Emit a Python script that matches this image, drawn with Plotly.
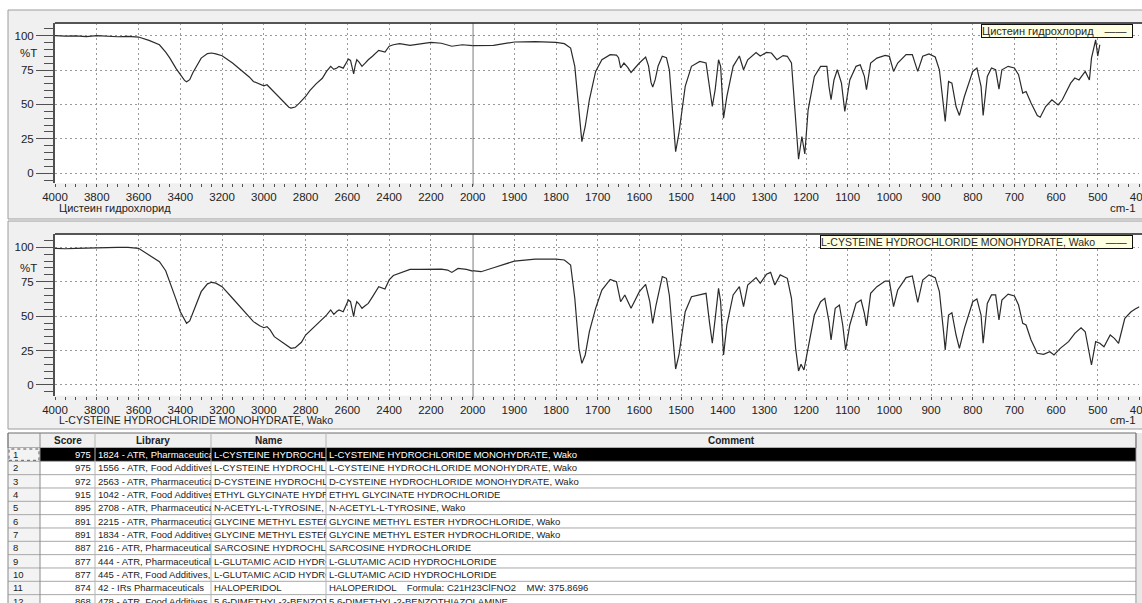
import plotly.graph_objects as go

W, H = 1142, 603
FONT = "Liberation Sans, Arial, sans-serif"

# ---------------- spectra: wavenumber (cm-1) and transmittance (%T) ----------------
sample_name = "Цистеин гидрохлорид"
sample_wn = [4000, 3950, 3900, 3850, 3800, 3750, 3700, 3650, 3600, 3550, 3500, 3470, 3450, 3420, 3400,
             3380, 3370, 3355, 3340, 3300, 3270, 3250, 3230, 3200, 3150, 3100, 3070, 3050, 3020, 3000,
             2985, 2970, 2950, 2925, 2900, 2880, 2870, 2850, 2830, 2800, 2780, 2750, 2720, 2700, 2680,
             2665, 2650, 2640, 2620, 2605, 2595, 2585, 2575, 2570, 2563, 2555, 2545, 2530, 2515, 2500,
             2480, 2450, 2420, 2400, 2380, 2350, 2300, 2250, 2200, 2150, 2100, 2050, 2000, 1950, 1900,
             1850, 1800, 1780, 1765, 1755, 1745, 1738, 1730, 1720, 1705, 1690, 1670, 1655, 1650, 1645,
             1637, 1628, 1620, 1610, 1600, 1585, 1578, 1572, 1568, 1562, 1555, 1545, 1535, 1528, 1520,
             1513, 1505, 1497, 1490, 1475, 1455, 1440, 1432, 1425, 1418, 1410, 1405, 1398, 1390, 1380,
             1375, 1360, 1350, 1340, 1320, 1310, 1295, 1283, 1270, 1255, 1245, 1235, 1225, 1218, 1210,
             1203, 1195, 1180, 1165, 1150, 1145, 1140, 1133, 1125, 1115, 1107, 1095, 1080, 1070, 1060,
             1055, 1045, 1030, 1010, 1000, 990, 980, 960, 945, 932, 920, 905, 890, 880, 870,
             866, 858, 850, 840, 832, 820, 800, 790, 780, 775, 765, 755, 745, 737, 730,
             715, 700, 690, 680, 672, 660, 645, 638, 625, 610, 595, 585, 565, 555, 545,
             530, 520, 515, 505, 500, 495]
sample_t = [100, 99.6, 99.8, 99.3, 100, 99.7, 99.2, 99.5, 99, 96.6, 93.4, 88, 83.7, 76, 71.6,
            67.5, 66.5, 68, 73, 83.7, 87, 87.4, 86.8, 85.4, 80.1, 74, 70, 66.7, 64.5, 63.6,
            64.3, 62, 59.4, 55, 51, 48, 47.3, 48.1, 51, 55.8, 60, 65, 69, 74, 77.7,
            75.5, 76.5, 77.7, 76.4, 80, 83, 82, 76, 72.3, 78, 82.5, 81, 77.7, 80, 82.5,
            85, 89.3, 88.1, 92.3, 93.4, 94.2, 92.9, 94.2, 95.1, 94.5, 92.3, 93.4, 92.7, 92.9, 95.4,
            95.6, 95.1, 94.2, 91, 77.7, 46.1, 23, 34, 53.4, 74, 82.5, 86.2, 85.8, 84, 76.5,
            80.1, 77, 73.3, 77, 80.1, 84.5, 78, 66, 62.6, 68, 78, 85, 84, 75, 41.2,
            15.7, 29.1, 48, 63.1, 77.7, 81.3, 80.1, 63, 48.5, 61, 82.5, 77.7, 40, 55.8, 70,
            77.7, 85.2, 75.2, 82.5, 87.8, 85.2, 87.8, 87.4, 82.5, 85.5, 85, 80.1, 41.2, 10.2, 26.7,
            14, 46.1, 70.4, 77.7, 77.7, 63.1, 53.4, 67.8, 75.2, 65.5, 44.9, 67.8, 77.7, 78.9, 70.4,
            60.7, 80.1, 83.7, 85.7, 85, 74, 80.1, 86.2, 86.2, 74, 85, 86.7, 84.5, 75.2, 48.5,
            37.6, 66.7, 65.5, 48.5, 42, 55.8, 74, 76.5, 63.1, 42, 70.4, 76.5, 75.2, 61.2, 75.2,
            77.7, 76.5, 71.6, 58.3, 59.4, 51, 42, 40.7, 48.5, 53.4, 49.7, 53.4, 65.5, 69.2, 67.8,
            74, 67.8, 83.7, 97, 85.2, 93.4]

ref_name = "L-CYSTEINE HYDROCHLORIDE MONOHYDRATE, Wako"
ref_wn = [4000, 3950, 3900, 3850, 3800, 3750, 3700, 3650, 3600, 3550, 3500, 3470, 3450, 3420, 3400,
          3380, 3370, 3355, 3330, 3300, 3270, 3250, 3230, 3200, 3150, 3100, 3050, 3020, 3000, 2985,
          2970, 2950, 2920, 2900, 2870, 2850, 2820, 2800, 2750, 2700, 2680, 2665, 2650, 2640, 2620,
          2605, 2595, 2585, 2575, 2570, 2563, 2555, 2545, 2530, 2515, 2500, 2480, 2450, 2420, 2400,
          2380, 2350, 2300, 2250, 2200, 2150, 2120, 2100, 2070, 2030, 2000, 1980, 1950, 1900, 1850,
          1800, 1780, 1765, 1755, 1745, 1738, 1730, 1720, 1705, 1690, 1670, 1655, 1645, 1635, 1620,
          1600, 1585, 1575, 1568, 1560, 1545, 1535, 1528, 1520, 1513, 1505, 1490, 1475, 1455, 1440,
          1432, 1425, 1418, 1410, 1405, 1398, 1390, 1375, 1360, 1350, 1340, 1320, 1310, 1295, 1285,
          1275, 1262, 1245, 1235, 1225, 1218, 1212, 1205, 1195, 1180, 1165, 1155, 1145, 1140, 1130,
          1120, 1112, 1105, 1095, 1080, 1068, 1060, 1055, 1045, 1030, 1010, 1000, 990, 980, 960,
          945, 932, 920, 905, 890, 880, 870, 866, 858, 850, 840, 832, 820, 800, 790,
          780, 775, 765, 755, 745, 737, 730, 715, 700, 690, 680, 672, 660, 645, 630,
          615, 605, 590, 570, 555, 540, 530, 520, 515, 505, 495, 485, 470, 460, 450,
          435, 420, 410, 400]
ref_t = [99.3, 99, 99.3, 99.5, 100, 100, 100, 100, 99.3, 94.4, 89.6, 83, 75, 62, 53.2,
         47, 44.8, 46.5, 56, 67.8, 73.5, 74.6, 74, 71.4, 63, 54.5, 46, 43, 41.6, 42.4,
         40, 35.1, 32, 30.3, 26.6, 27.1, 31, 36.3, 43.6, 50.8, 54.5, 51.3, 53.5, 54.5, 53.2,
         58, 61.7, 60.5, 53, 49.6, 56, 60.5, 59, 55.7, 57.5, 59.3, 64, 71.4, 69.7, 76.3,
         79.5, 81.2, 84, 84, 84, 84.2, 83.5, 81.8, 84.7, 84, 82.7, 82.3, 85.2, 90, 91.5,
         91.5, 90.8, 87.2, 63, 26.6, 15.7, 21.8, 38.7, 55.7, 69, 76.7, 75, 60.5, 65.4, 55.7,
         67.8, 73.1, 60.5, 44.8, 58.1, 78.7, 77.5, 65, 36.3, 11.6, 21.8, 53.2, 64.1, 65.8, 66.6,
         46, 30.3, 48.4, 70.2, 60.5, 21.8, 43.6, 65.4, 71.4, 56.9, 72.6, 78, 73.9, 80.4, 81.8,
         72.6, 80, 77.5, 63, 26.6, 10.2, 15, 10.9, 26.6, 50.8, 60.5, 63, 46, 32.7, 55.7,
         58.1, 43.6, 25.4, 43.6, 59.3, 61.7, 52, 42.9, 66.6, 71.4, 75.5, 75.5, 56.9, 69, 78,
         79.2, 60, 76.3, 80, 78, 67.8, 38.7, 25.4, 50.8, 52.5, 36.3, 26.6, 41.1, 60.5, 62.5,
         50.8, 30.3, 59.3, 65.4, 65.4, 47.2, 61.7, 66, 64.7, 58.1, 44.8, 43.6, 32.7, 23, 22.3,
         24.2, 21.8, 26.6, 31.5, 37.5, 41.6, 38.7, 24.2, 14.5, 31.5, 30.3, 27.8, 36.3, 33.9, 30.3,
         48.4, 53.2, 55.2, 56.9]

# ---------------- search hit list ----------------
table_headers = ["", "Score", "Library", "Name", "Comment"]
hit_no = [str(i) for i in range(1, 13)]
hit_score = [975, 975, 972, 915, 895, 891, 891, 887, 877, 877, 874, 868]
hit_library = ["1824 - ATR, PharmaceuticalsR", "1556 - ATR, Food Additives, P",
               "2563 - ATR, PharmaceuticalsR", "1042 - ATR, Food Additives, P",
               "2708 - ATR, PharmaceuticalsR", "2215 - ATR, PharmaceuticalsR",
               "1834 - ATR, Food Additives, P", "216 - ATR, PharmaceuticalsR-(",
               "444 - ATR, PharmaceuticalsR-(", "445 - ATR, Food Additives, Pa",
               "42 - IRs Pharmaceuticals", "478 - ATR, Food Additives, Pa"]
hit_name = ["L-CYSTEINE HYDROCHLORIDE", "L-CYSTEINE HYDROCHLORIDE", "D-CYSTEINE HYDROCHLORIDE",
            "ETHYL GLYCINATE HYDROCHLORIDE", "N-ACETYL-L-TYROSINE, Wako",
            "GLYCINE METHYL ESTER HYDROCHLORIDE", "GLYCINE METHYL ESTER HYDROCHLORIDE",
            "SARCOSINE HYDROCHLORIDE", "L-GLUTAMIC ACID HYDROCHLORIDE",
            "L-GLUTAMIC ACID HYDROCHLORIDE", "HALOPERIDOL", "5,6-DIMETHYL-2-BENZOTHIAZOLAMINE"]
hit_comment = ["L-CYSTEINE HYDROCHLORIDE MONOHYDRATE, Wako", "L-CYSTEINE HYDROCHLORIDE MONOHYDRATE, Wako",
               "D-CYSTEINE HYDROCHLORIDE MONOHYDRATE, Wako", "ETHYL GLYCINATE HYDROCHLORIDE",
               "N-ACETYL-L-TYROSINE, Wako", "GLYCINE METHYL ESTER HYDROCHLORIDE, Wako",
               "GLYCINE METHYL ESTER HYDROCHLORIDE, Wako", "SARCOSINE HYDROCHLORIDE",
               "L-GLUTAMIC ACID HYDROCHLORIDE", "L-GLUTAMIC ACID HYDROCHLORIDE",
               "HALOPERIDOL    Formula: C21H23ClFNO2    MW: 375.8696",
               "5,6-DIMETHYL-2-BENZOTHIAZOLAMINE"]


def fx(p):
    return p / W


def fy(p):
    return 1 - p / H


LINE = "#2b2b2b"
AXC = "#505050"
GRID = "#9a9a9a"
TXT = "#222"

# panel geometry in pixels
X_LEFT, X_SPLIT, X_RIGHT = 55, 472.7, 1139.4
panels = [
    dict(top=23, bottom=183.3, yr=[-7.3, 109.2], frame=(10, 219), pct=53, name_fs=11),
    dict(top=234, bottom=395.7, yr=[-7.8, 109.7], frame=(221, 429), pct=268, name_fs=10.5),
]

fig = go.Figure()
spectra = [(sample_wn, sample_t), (ref_wn, ref_t)]
for k, (wn, t) in enumerate(spectra):
    ya = "y" if k == 0 else "y2"
    for j in range(2):
        xa = "x" if (k == 0 and j == 0) else f"x{2 * k + j + 1}"
        fig.add_trace(go.Scatter(x=wn, y=t, mode="lines", xaxis=xa, yaxis=ya,
                                 line=dict(color=LINE, width=1.2), showlegend=False,
                                 hoverinfo="skip"))

layout = dict(
    width=W, height=H, margin=dict(l=0, r=0, t=0, b=0, autoexpand=False),
    paper_bgcolor="white", plot_bgcolor="rgba(0,0,0,0)", showlegend=False,
    font=dict(family=FONT, size=11, color=TXT),
)

left_ticks = list(range(4000, 2199, -200))
right_ticks = list(range(1900, 399, -100))
for k, p in enumerate(panels):
    ydom = [fy(p["bottom"]), fy(p["top"])]
    yname = "yaxis" if k == 0 else "yaxis2"
    yref = "y" if k == 0 else "y2"
    layout[yname] = dict(
        domain=ydom, range=p["yr"], anchor="x" if k == 0 else "x3", automargin=False,
        tickmode="linear", tick0=0, dtick=25, ticks="outside", ticklen=17,
        tickcolor=AXC, tickwidth=1.2, showline=True, linecolor=AXC, linewidth=2,
        showgrid=True, gridcolor=GRID, griddash="2px,3px", gridwidth=1,
        zeroline=False, tickfont=dict(size=11.5, color=TXT),
        minor=dict(tickmode="linear", tick0=0, dtick=5, ticks="outside", ticklen=9,
                   tickcolor=AXC, showgrid=False),
        fixedrange=True,
    )
    common = dict(anchor=yref, automargin=False, ticks="outside", ticklen=3, tickcolor=AXC,
                  showline=False, showgrid=True, gridcolor=GRID, griddash="2px,3px",
                  gridwidth=1, zeroline=False, tickfont=dict(size=11.5, color=TXT),
                  ticklabeloverflow="allow", fixedrange=True)
    ln = "xaxis" if k == 0 else "xaxis3"
    rn = "xaxis2" if k == 0 else "xaxis4"
    layout[ln] = dict(common, domain=[fx(X_LEFT), fx(X_SPLIT)], range=[4000, 2000],
                      tickmode="array", tickvals=left_ticks,
                      minor=dict(tickmode="linear", tick0=0, dtick=50, ticks="outside",
                                 ticklen=3, tickcolor=AXC, showgrid=False))
    layout[rn] = dict(common, domain=[fx(X_SPLIT), fx(X_RIGHT)], range=[2000, 400],
                      tickmode="array", tickvals=[2000] + right_ticks,
                      minor=dict(tickmode="linear", tick0=0, dtick=25, ticks="outside",
                                 ticklen=3, tickcolor=AXC, showgrid=False))
fig.update_layout(**layout)

shapes = []
annotations = []


def label(x, y, text, size, color=TXT, xanchor="center", **kw):
    d = dict(xref="paper", yref="paper", x=fx(x), y=fy(y), text=text, showarrow=False,
             xanchor=xanchor, yanchor=kw.pop("yanchor", "middle"),
             font=dict(size=size, color=color))
    d.update(kw)
    annotations.append(d)


# window frames and white plotting areas
for p in panels:
    f0, f1 = p["frame"]
    shapes.append(dict(type="rect", xref="paper", yref="paper", x0=fx(8), x1=fx(1150),
                       y0=fy(f1), y1=fy(f0), fillcolor="#f0f0f0",
                       line=dict(color="#9c9c9c", width=1), layer="below"))
    shapes.append(dict(type="rect", xref="paper", yref="paper", x0=fx(X_LEFT), x1=fx(1150),
                       y0=fy(p["bottom"]), y1=fy(p["top"]), fillcolor="white",
                       line=dict(width=0), layer="below"))
    # top border of the plotting area
    shapes.append(dict(type="line", xref="paper", yref="paper", x0=fx(X_LEFT), x1=fx(1150),
                       y0=fy(p["top"]), y1=fy(p["top"]), line=dict(color="#555", width=2),
                       layer="above"))

# boundary between the two wavenumber scales
for xa, ya in (("x2", "y"), ("x4", "y2")):
    shapes.append(dict(type="line", xref=xa, yref=f"{ya} domain", x0=2000, x1=2000,
                       y0=-0.015, y1=1, line=dict(color="#333", width=1.3), layer="above"))

# axis texts and legend boxes
for p, name in zip(panels, [sample_name, ref_name]):
    label(28, p["pct"], "%T", 11.5)
    label(57, p["bottom"] + 24.5, name, p["name_fs"], xanchor="left")
    label(1138, p["bottom"] + 24.5, "cm-1", 11.5, xanchor="right")
    label(1133, p["top"] + 1, name + "\u2003\u2014\u2014\u2002", p["name_fs"], color="#2a2a2a",
          xanchor="right", yanchor="top", bgcolor="#ffffe1", bordercolor="#111",
          borderwidth=1, borderpad=0)

# hit table
col_x = [8, 40, 95, 211, 326, 1136]
T_TOP, HEAD_H, ROW_H = 433, 15, 13.33
row_top = T_TOP + HEAD_H
shapes.append(dict(type="rect", xref="paper", yref="paper", x0=fx(8), x1=fx(1136),
                   y0=fy(row_top), y1=fy(T_TOP), fillcolor="#f0f0f0",
                   line=dict(color="#6d6d6d", width=1), layer="below"))
shapes.append(dict(type="rect", xref="paper", yref="paper", x0=fx(8), x1=fx(40),
                   y0=fy(H + 5), y1=fy(row_top), fillcolor="#f3f3f3",
                   line=dict(width=0), layer="below"))
shapes.append(dict(type="rect", xref="paper", yref="paper", x0=fx(1137), x1=fx(1150),
                   y0=fy(H + 5), y1=fy(T_TOP), fillcolor="#e8e8e8",
                   line=dict(width=0), layer="below"))
# selected first row
shapes.append(dict(type="rect", xref="paper", yref="paper", x0=fx(40), x1=fx(1136),
                   y0=fy(row_top + ROW_H), y1=fy(row_top), fillcolor="black",
                   line=dict(width=0), layer="below"))
shapes.append(dict(type="rect", xref="paper", yref="paper", x0=fx(9), x1=fx(39),
                   y0=fy(row_top + ROW_H - 1), y1=fy(row_top + 1), fillcolor="rgba(0,0,0,0)",
                   line=dict(color="#555", width=1, dash="dot"), layer="below"))
for i in range(1, len(hit_no) + 1):
    yy = row_top + i * ROW_H
    shapes.append(dict(type="line", xref="paper", yref="paper", x0=fx(8), x1=fx(1136),
                       y0=fy(yy), y1=fy(yy), line=dict(color="#a8a8a8", width=1), layer="below"))
for cx in col_x:
    shapes.append(dict(type="line", xref="paper", yref="paper", x0=fx(cx), x1=fx(cx),
                       y0=fy(H + 5), y1=fy(T_TOP),
                       line=dict(color="#8a8a8a" if cx in (8, 40, 1136) else "#b5b5b5", width=1),
                       layer="below"))
for c in range(1, 5):
    label((col_x[c] + col_x[c + 1]) / 2, T_TOP + HEAD_H / 2, f"<b>{table_headers[c]}</b>", 10)

TFS = 9.5
for i in range(len(hit_no)):
    yc = row_top + (i + 0.5) * ROW_H
    fg = "white" if i == 0 else TXT
    label(11, yc, hit_no[i], TFS, xanchor="left")
    label(93, yc, str(hit_score[i]), TFS, color=fg, xanchor="right")
    for c, vals in ((2, hit_library), (3, hit_name), (4, hit_comment)):
        label(col_x[c] + 2, yc, vals[i], TFS, color=fg, xanchor="left", align="left",
              width=col_x[c + 1] - col_x[c] - 3, borderpad=0)

fig.update_layout(shapes=shapes, annotations=annotations)
fig.write_html("out.html")
